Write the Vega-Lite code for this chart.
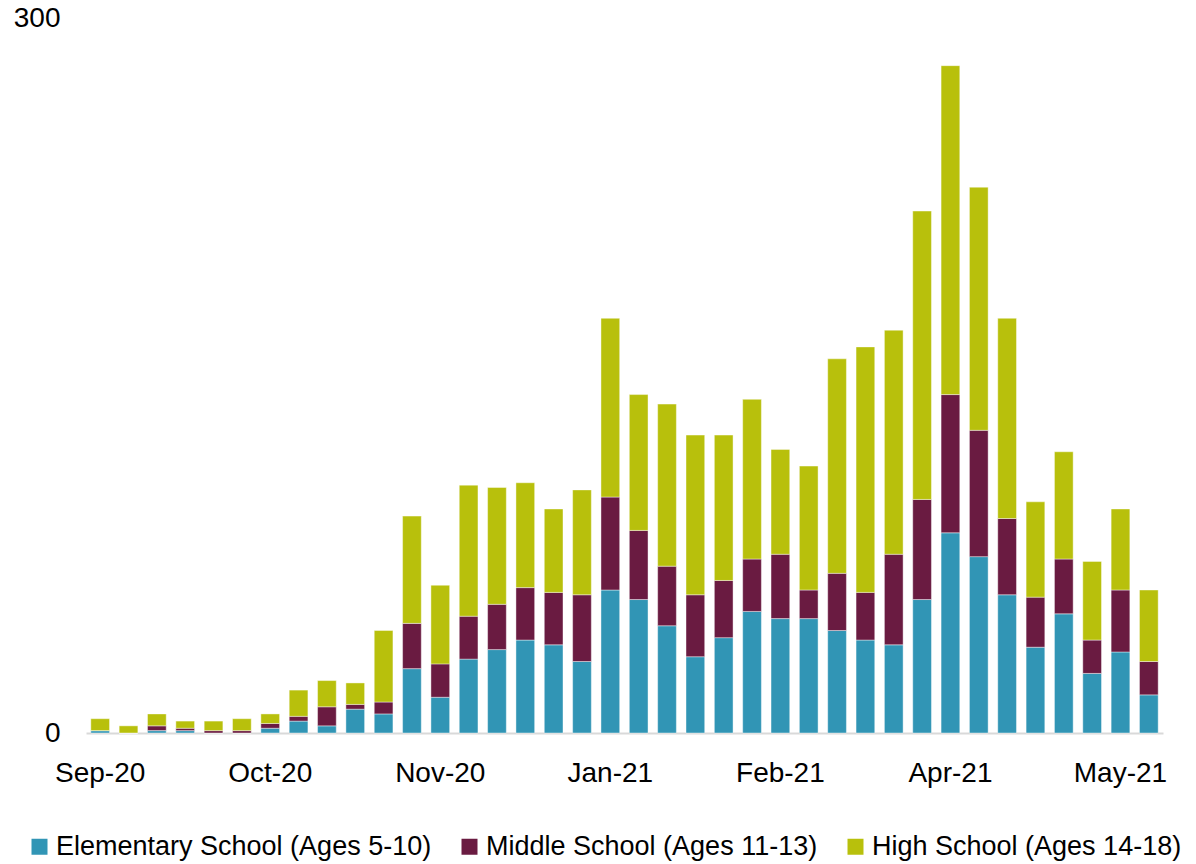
{
  "$schema": "https://vega.github.io/schema/vega-lite/v6.json",
  "autosize": {"type": "none"},
  "padding": {"left": 86, "top": 18, "right": 33, "bottom": 131},
  "width": 1077,
  "height": 715,
  "background": "white",
  "config": {
    "view": {"stroke": null},
    "font": "Liberation Sans"
  },
  "datasets": {
    "cases": [
      {"week":"2020-09-05","level":"Elementary School (Ages 5-10)","rank":1,"cases":1},{"week":"2020-09-05","level":"Middle School (Ages 11-13)","rank":2,"cases":0},{"week":"2020-09-05","level":"High School (Ages 14-18)","rank":3,"cases":5},
      {"week":"2020-09-12","level":"Elementary School (Ages 5-10)","rank":1,"cases":0},{"week":"2020-09-12","level":"Middle School (Ages 11-13)","rank":2,"cases":0},{"week":"2020-09-12","level":"High School (Ages 14-18)","rank":3,"cases":3},
      {"week":"2020-09-19","level":"Elementary School (Ages 5-10)","rank":1,"cases":1},{"week":"2020-09-19","level":"Middle School (Ages 11-13)","rank":2,"cases":2},{"week":"2020-09-19","level":"High School (Ages 14-18)","rank":3,"cases":5},
      {"week":"2020-09-26","level":"Elementary School (Ages 5-10)","rank":1,"cases":1},{"week":"2020-09-26","level":"Middle School (Ages 11-13)","rank":2,"cases":1},{"week":"2020-09-26","level":"High School (Ages 14-18)","rank":3,"cases":3},
      {"week":"2020-10-03","level":"Elementary School (Ages 5-10)","rank":1,"cases":0},{"week":"2020-10-03","level":"Middle School (Ages 11-13)","rank":2,"cases":1},{"week":"2020-10-03","level":"High School (Ages 14-18)","rank":3,"cases":4},
      {"week":"2020-10-10","level":"Elementary School (Ages 5-10)","rank":1,"cases":0},{"week":"2020-10-10","level":"Middle School (Ages 11-13)","rank":2,"cases":1},{"week":"2020-10-10","level":"High School (Ages 14-18)","rank":3,"cases":5},
      {"week":"2020-10-17","level":"Elementary School (Ages 5-10)","rank":1,"cases":2},{"week":"2020-10-17","level":"Middle School (Ages 11-13)","rank":2,"cases":2},{"week":"2020-10-17","level":"High School (Ages 14-18)","rank":3,"cases":4},
      {"week":"2020-10-24","level":"Elementary School (Ages 5-10)","rank":1,"cases":5},{"week":"2020-10-24","level":"Middle School (Ages 11-13)","rank":2,"cases":2},{"week":"2020-10-24","level":"High School (Ages 14-18)","rank":3,"cases":11},
      {"week":"2020-10-31","level":"Elementary School (Ages 5-10)","rank":1,"cases":3},{"week":"2020-10-31","level":"Middle School (Ages 11-13)","rank":2,"cases":8},{"week":"2020-10-31","level":"High School (Ages 14-18)","rank":3,"cases":11},
      {"week":"2020-11-07","level":"Elementary School (Ages 5-10)","rank":1,"cases":10},{"week":"2020-11-07","level":"Middle School (Ages 11-13)","rank":2,"cases":2},{"week":"2020-11-07","level":"High School (Ages 14-18)","rank":3,"cases":9},
      {"week":"2020-11-14","level":"Elementary School (Ages 5-10)","rank":1,"cases":8},{"week":"2020-11-14","level":"Middle School (Ages 11-13)","rank":2,"cases":5},{"week":"2020-11-14","level":"High School (Ages 14-18)","rank":3,"cases":30},
      {"week":"2020-11-21","level":"Elementary School (Ages 5-10)","rank":1,"cases":27},{"week":"2020-11-21","level":"Middle School (Ages 11-13)","rank":2,"cases":19},{"week":"2020-11-21","level":"High School (Ages 14-18)","rank":3,"cases":45},
      {"week":"2020-11-28","level":"Elementary School (Ages 5-10)","rank":1,"cases":15},{"week":"2020-11-28","level":"Middle School (Ages 11-13)","rank":2,"cases":14},{"week":"2020-11-28","level":"High School (Ages 14-18)","rank":3,"cases":33},
      {"week":"2020-12-05","level":"Elementary School (Ages 5-10)","rank":1,"cases":31},{"week":"2020-12-05","level":"Middle School (Ages 11-13)","rank":2,"cases":18},{"week":"2020-12-05","level":"High School (Ages 14-18)","rank":3,"cases":55},
      {"week":"2020-12-12","level":"Elementary School (Ages 5-10)","rank":1,"cases":35},{"week":"2020-12-12","level":"Middle School (Ages 11-13)","rank":2,"cases":19},{"week":"2020-12-12","level":"High School (Ages 14-18)","rank":3,"cases":49},
      {"week":"2020-12-19","level":"Elementary School (Ages 5-10)","rank":1,"cases":39},{"week":"2020-12-19","level":"Middle School (Ages 11-13)","rank":2,"cases":22},{"week":"2020-12-19","level":"High School (Ages 14-18)","rank":3,"cases":44},
      {"week":"2020-12-26","level":"Elementary School (Ages 5-10)","rank":1,"cases":37},{"week":"2020-12-26","level":"Middle School (Ages 11-13)","rank":2,"cases":22},{"week":"2020-12-26","level":"High School (Ages 14-18)","rank":3,"cases":35},
      {"week":"2021-01-02","level":"Elementary School (Ages 5-10)","rank":1,"cases":30},{"week":"2021-01-02","level":"Middle School (Ages 11-13)","rank":2,"cases":28},{"week":"2021-01-02","level":"High School (Ages 14-18)","rank":3,"cases":44},
      {"week":"2021-01-09","level":"Elementary School (Ages 5-10)","rank":1,"cases":60},{"week":"2021-01-09","level":"Middle School (Ages 11-13)","rank":2,"cases":39},{"week":"2021-01-09","level":"High School (Ages 14-18)","rank":3,"cases":75},
      {"week":"2021-01-16","level":"Elementary School (Ages 5-10)","rank":1,"cases":56},{"week":"2021-01-16","level":"Middle School (Ages 11-13)","rank":2,"cases":29},{"week":"2021-01-16","level":"High School (Ages 14-18)","rank":3,"cases":57},
      {"week":"2021-01-23","level":"Elementary School (Ages 5-10)","rank":1,"cases":45},{"week":"2021-01-23","level":"Middle School (Ages 11-13)","rank":2,"cases":25},{"week":"2021-01-23","level":"High School (Ages 14-18)","rank":3,"cases":68},
      {"week":"2021-01-30","level":"Elementary School (Ages 5-10)","rank":1,"cases":32},{"week":"2021-01-30","level":"Middle School (Ages 11-13)","rank":2,"cases":26},{"week":"2021-01-30","level":"High School (Ages 14-18)","rank":3,"cases":67},
      {"week":"2021-02-06","level":"Elementary School (Ages 5-10)","rank":1,"cases":40},{"week":"2021-02-06","level":"Middle School (Ages 11-13)","rank":2,"cases":24},{"week":"2021-02-06","level":"High School (Ages 14-18)","rank":3,"cases":61},
      {"week":"2021-02-13","level":"Elementary School (Ages 5-10)","rank":1,"cases":51},{"week":"2021-02-13","level":"Middle School (Ages 11-13)","rank":2,"cases":22},{"week":"2021-02-13","level":"High School (Ages 14-18)","rank":3,"cases":67},
      {"week":"2021-02-20","level":"Elementary School (Ages 5-10)","rank":1,"cases":48},{"week":"2021-02-20","level":"Middle School (Ages 11-13)","rank":2,"cases":27},{"week":"2021-02-20","level":"High School (Ages 14-18)","rank":3,"cases":44},
      {"week":"2021-02-27","level":"Elementary School (Ages 5-10)","rank":1,"cases":48},{"week":"2021-02-27","level":"Middle School (Ages 11-13)","rank":2,"cases":12},{"week":"2021-02-27","level":"High School (Ages 14-18)","rank":3,"cases":52},
      {"week":"2021-03-06","level":"Elementary School (Ages 5-10)","rank":1,"cases":43},{"week":"2021-03-06","level":"Middle School (Ages 11-13)","rank":2,"cases":24},{"week":"2021-03-06","level":"High School (Ages 14-18)","rank":3,"cases":90},
      {"week":"2021-03-13","level":"Elementary School (Ages 5-10)","rank":1,"cases":39},{"week":"2021-03-13","level":"Middle School (Ages 11-13)","rank":2,"cases":20},{"week":"2021-03-13","level":"High School (Ages 14-18)","rank":3,"cases":103},
      {"week":"2021-03-20","level":"Elementary School (Ages 5-10)","rank":1,"cases":37},{"week":"2021-03-20","level":"Middle School (Ages 11-13)","rank":2,"cases":38},{"week":"2021-03-20","level":"High School (Ages 14-18)","rank":3,"cases":94},
      {"week":"2021-03-27","level":"Elementary School (Ages 5-10)","rank":1,"cases":56},{"week":"2021-03-27","level":"Middle School (Ages 11-13)","rank":2,"cases":42},{"week":"2021-03-27","level":"High School (Ages 14-18)","rank":3,"cases":121},
      {"week":"2021-04-03","level":"Elementary School (Ages 5-10)","rank":1,"cases":84},{"week":"2021-04-03","level":"Middle School (Ages 11-13)","rank":2,"cases":58},{"week":"2021-04-03","level":"High School (Ages 14-18)","rank":3,"cases":138},
      {"week":"2021-04-10","level":"Elementary School (Ages 5-10)","rank":1,"cases":74},{"week":"2021-04-10","level":"Middle School (Ages 11-13)","rank":2,"cases":53},{"week":"2021-04-10","level":"High School (Ages 14-18)","rank":3,"cases":102},
      {"week":"2021-04-17","level":"Elementary School (Ages 5-10)","rank":1,"cases":58},{"week":"2021-04-17","level":"Middle School (Ages 11-13)","rank":2,"cases":32},{"week":"2021-04-17","level":"High School (Ages 14-18)","rank":3,"cases":84},
      {"week":"2021-04-24","level":"Elementary School (Ages 5-10)","rank":1,"cases":36},{"week":"2021-04-24","level":"Middle School (Ages 11-13)","rank":2,"cases":21},{"week":"2021-04-24","level":"High School (Ages 14-18)","rank":3,"cases":40},
      {"week":"2021-05-01","level":"Elementary School (Ages 5-10)","rank":1,"cases":50},{"week":"2021-05-01","level":"Middle School (Ages 11-13)","rank":2,"cases":23},{"week":"2021-05-01","level":"High School (Ages 14-18)","rank":3,"cases":45},
      {"week":"2021-05-08","level":"Elementary School (Ages 5-10)","rank":1,"cases":25},{"week":"2021-05-08","level":"Middle School (Ages 11-13)","rank":2,"cases":14},{"week":"2021-05-08","level":"High School (Ages 14-18)","rank":3,"cases":33},
      {"week":"2021-05-15","level":"Elementary School (Ages 5-10)","rank":1,"cases":34},{"week":"2021-05-15","level":"Middle School (Ages 11-13)","rank":2,"cases":26},{"week":"2021-05-15","level":"High School (Ages 14-18)","rank":3,"cases":34},
      {"week":"2021-05-22","level":"Elementary School (Ages 5-10)","rank":1,"cases":16},{"week":"2021-05-22","level":"Middle School (Ages 11-13)","rank":2,"cases":14},{"week":"2021-05-22","level":"High School (Ages 14-18)","rank":3,"cases":30}
    ]
  },
  "data": {"name": "cases"},
  "mark": {"type": "bar", "stroke": "#ffffff", "strokeWidth": 0.6, "strokeOpacity": 0.7},
  "encoding": {
    "x": {
      "field": "week",
      "type": "ordinal",
      "sort": null,
      "scale": {"paddingInner": 0.34, "paddingOuter": 0.17},
      "axis": {
        "title": null,
        "values": ["2020-09-05", "2020-10-17", "2020-11-28", "2021-01-09", "2021-02-20", "2021-04-03", "2021-05-15"],
        "labelExpr": "utcFormat(toDate(datum.value), '%b-%y')",
        "labelAngle": 0,
        "labelFontSize": 28,
        "labelColor": "#000000",
        "labelPadding": 26,
        "ticks": false,
        "domainColor": "#D9D9D9",
        "domainWidth": 2,
        "grid": false
      }
    },
    "y": {
      "field": "cases",
      "type": "quantitative",
      "stack": "zero",
      "scale": {"domain": [0, 300], "nice": false},
      "axis": {
        "title": null,
        "values": [0, 300],
        "labelFontSize": 28,
        "labelColor": "#000000",
        "labelPadding": 26,
        "ticks": false,
        "domain": false,
        "grid": false
      }
    },
    "order": {"field": "rank", "type": "quantitative", "sort": "ascending"},
    "color": {
      "field": "level",
      "type": "nominal",
      "sort": ["Elementary School (Ages 5-10)", "Middle School (Ages 11-13)", "High School (Ages 14-18)"],
      "scale": {
        "domain": ["Elementary School (Ages 5-10)", "Middle School (Ages 11-13)", "High School (Ages 14-18)"],
        "range": ["#3195B5", "#6A1B41", "#B8C00C"]
      },
      "legend": {
        "title": null,
        "orient": "none",
        "legendX": -60,
        "legendY": 815,
        "direction": "horizontal",
        "symbolType": "square",
        "symbolSize": 256,
        "symbolStrokeWidth": 0,
        "labelFontSize": 27,
        "labelColor": "#000000",
        "labelOffset": 3,
        "labelLimit": 500,
        "columnPadding": 24
      }
    }
  }
}
